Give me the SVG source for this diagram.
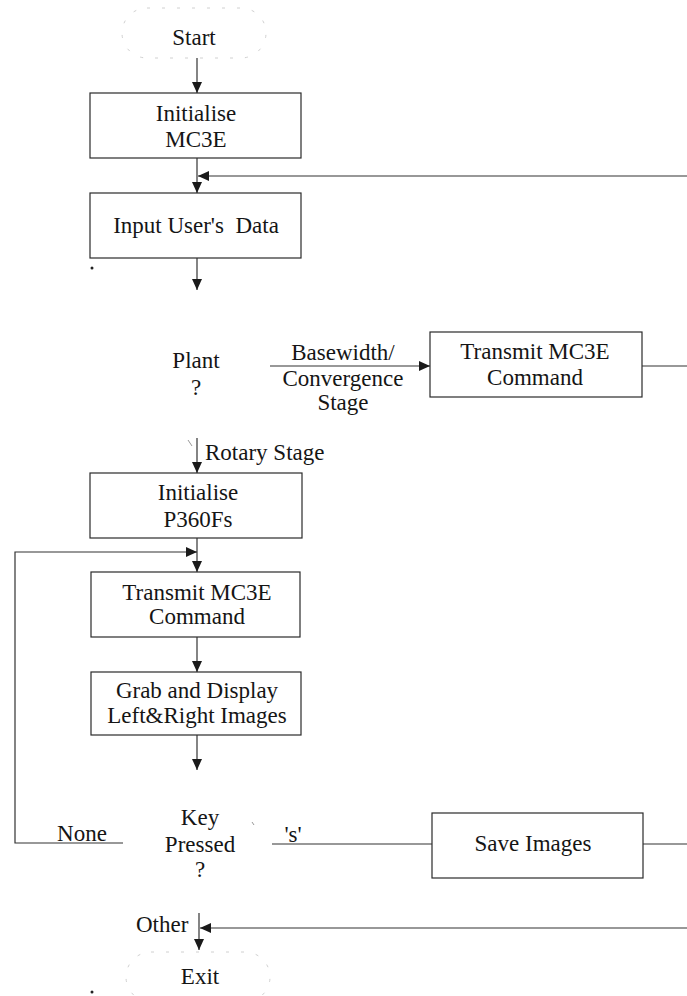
<svg xmlns="http://www.w3.org/2000/svg" width="687" height="996" viewBox="0 0 687 996" font-family="Liberation Serif, DejaVu Serif, serif">
<style>
.t{font-family:'Liberation Serif','DejaVu Serif',serif;font-size:23px;fill:#151515;text-anchor:middle}
.tl{font-family:'Liberation Serif','DejaVu Serif',serif;font-size:23px;fill:#151515;text-anchor:start}
.box{fill:none;stroke:#2a2a2a;stroke-width:1.2}
.ln{fill:none;stroke:#333;stroke-width:1.2}
.faint{fill:none;stroke:#d0d0d0;stroke-width:1;stroke-dasharray:3 12}
.speck{fill:none;stroke:#999;stroke-width:1}
</style>
<defs>
<marker id="ah" markerUnits="userSpaceOnUse" markerWidth="12" markerHeight="10" refX="11" refY="5" orient="auto">
<path d="M0,0 L11,5 L0,10 Z" fill="#1a1a1a"/>
</marker>
</defs>
<rect width="687" height="996" fill="#fff"/>

<g id="start">
<rect class="faint" x="122" y="8" width="144" height="50" rx="25"/>
<text class="t" x="194" y="45">Start</text>
</g>

<g id="init-mc3e">
<rect class="box" x="90" y="93" width="211" height="65"/>
<text class="t" x="196" y="121">Initialise</text>
<text class="t" x="196" y="147">MC3E</text>
</g>

<g id="input-data">
<rect class="box" x="90" y="193" width="211" height="65"/>
<text class="t" x="196" y="233" xml:space="preserve">Input User's  Data</text>
</g>

<g id="plant">
<text class="t" x="196" y="368">Plant</text>
<text class="t" x="196" y="395">?</text>
<line class="speck" x1="188" y1="440" x2="192" y2="446"/>
</g>

<g id="transmit-1">
<rect class="box" x="430" y="332" width="212" height="65"/>
<text class="t" x="535" y="359">Transmit MC3E</text>
<text class="t" x="535" y="385">Command</text>
</g>

<g id="init-p360">
<rect class="box" x="90" y="473" width="212" height="65"/>
<text class="t" x="198" y="500">Initialise</text>
<text class="t" x="198" y="527">P360Fs</text>
</g>

<g id="transmit-2">
<rect class="box" x="91" y="572" width="209" height="65"/>
<text class="t" x="197" y="600">Transmit MC3E</text>
<text class="t" x="197" y="624">Command</text>
</g>

<g id="grab">
<rect class="box" x="91" y="672" width="210" height="63"/>
<text class="t" x="197" y="698">Grab and Display</text>
<text class="t" x="197" y="723">Left&amp;Right Images</text>
</g>

<g id="key">
<text class="t" x="200" y="825">Key</text>
<text class="t" x="200" y="852">Pressed</text>
<text class="t" x="200" y="877">?</text>
<line class="speck" x1="252" y1="822" x2="254" y2="825"/>
</g>

<g id="save">
<rect class="box" x="432" y="813" width="211" height="65"/>
<text class="t" x="533" y="851">Save Images</text>
</g>

<g id="exit">
<rect class="faint" x="126" y="952" width="144" height="50" rx="25"/>
<text class="t" x="200" y="984">Exit</text>
</g>

<g id="connectors">
<line class="ln" x1="197" y1="58" x2="197" y2="93" marker-end="url(#ah)"/>
<line class="ln" x1="197" y1="158" x2="197" y2="193" marker-end="url(#ah)"/>
<line class="ln" x1="687" y1="176" x2="198" y2="176" marker-end="url(#ah)"/>
<line class="ln" x1="197" y1="258" x2="197" y2="290" marker-end="url(#ah)"/>
<line class="ln" x1="270" y1="366" x2="430" y2="366" marker-end="url(#ah)"/>
<line class="ln" x1="642" y1="366" x2="687" y2="366"/>
<line class="ln" x1="197" y1="438" x2="197" y2="473" marker-end="url(#ah)"/>
<line class="ln" x1="197" y1="538" x2="197" y2="572" marker-end="url(#ah)"/>
<polyline class="ln" points="123,843 15,843 15,552 197,552" marker-end="url(#ah)"/>
<line class="ln" x1="197" y1="637" x2="197" y2="672" marker-end="url(#ah)"/>
<line class="ln" x1="197" y1="735" x2="197" y2="770" marker-end="url(#ah)"/>
<line class="ln" x1="272" y1="844" x2="432" y2="844"/>
<line class="ln" x1="643" y1="844" x2="687" y2="844"/>
<line class="ln" x1="199" y1="913" x2="199" y2="950" marker-end="url(#ah)"/>
<line class="ln" x1="687" y1="928" x2="200" y2="928" marker-end="url(#ah)"/>
<text class="t" x="343" y="360">Basewidth/</text>
<text class="t" x="343" y="386">Convergence</text>
<text class="t" x="343" y="410">Stage</text>
<text class="tl" x="205" y="460">Rotary Stage</text>
<text class="t" x="82" y="841">None</text>
<text class="t" x="293" y="842">'s'</text>
<text class="tl" x="136" y="932">Other</text>
</g>
<circle cx="92" cy="268" r="1.5" fill="#222"/>
<circle cx="92" cy="992" r="1.5" fill="#222"/>
</svg>
